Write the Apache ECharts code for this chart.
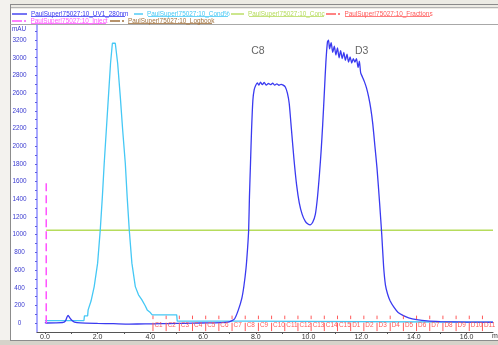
<!DOCTYPE html>
<html>
<head>
<meta charset="utf-8">
<script src="https://cdn.jsdelivr.net/npm/echarts@6/dist/echarts.min.js"></script>
<style>
  html, body { margin: 0; padding: 0; background: #fff; }
  #chart { width: 498px; height: 345px; }
</style>
</head>
<body>
<div id="chart"></div>
<script>
// curve names as shown in the legend
const curveNames = [
  'PaulSuper!75027:10_UV1_280nm',
  'PaulSuper!75027:10_Cond%',
  'PaulSuper!75027:10_Conc',
  'PaulSuper!75027:10_Fractions',
  'PaulSuper!75027:10_Inject',
  'PaulSuper!75027:10_Logbook'
];

// UV 280 nm trace [min, mAU]
const uvCurve = [
  [0.0, 8], [0.05, 2], [0.4, 3], [0.7, 8], [0.78, 25], [0.84, 70], [0.88, 88], [0.94, 62],
  [1.02, 32], [1.12, 12], [1.35, 2], [2.0, -3], [2.6, -6], [3.2, -10], [3.8, -9], [4.4, -6],
  [5.0, -3], [5.6, 0], [6.2, 3], [6.7, 6], [6.95, 12], [7.08, 25], [7.2, 50], [7.34, 150],
  [7.47, 280], [7.55, 420], [7.63, 620], [7.69, 850], [7.73, 1054], [7.76, 1430], [7.8, 1808],
  [7.84, 2184], [7.89, 2520], [7.94, 2640], [8.0, 2690], [8.06, 2715], [8.12, 2690], [8.18, 2725],
  [8.25, 2695], [8.32, 2720], [8.4, 2690], [8.48, 2710], [8.56, 2695], [8.64, 2712], [8.72, 2690],
  [8.8, 2705], [8.88, 2688], [8.96, 2700], [9.04, 2690], [9.12, 2670], [9.2, 2600], [9.27, 2480],
  [9.35, 2200], [9.45, 1850], [9.55, 1560], [9.65, 1360], [9.76, 1230], [9.88, 1150], [9.98, 1120],
  [10.06, 1110], [10.16, 1140], [10.26, 1230], [10.34, 1420], [10.42, 1700], [10.48, 1950],
  [10.54, 2250], [10.6, 2600], [10.66, 2950], [10.72, 3180], [10.76, 3200], [10.8, 3100],
  [10.86, 3170], [10.92, 3060], [10.98, 3130], [11.04, 3030], [11.1, 3110], [11.16, 3000],
  [11.22, 3080], [11.28, 2990], [11.34, 3060], [11.4, 2970], [11.46, 3040], [11.52, 2950],
  [11.58, 3010], [11.64, 2940], [11.7, 2990], [11.76, 2950], [11.82, 2990], [11.88, 2890],
  [11.93, 2960], [11.98, 2830], [12.05, 2780], [12.12, 2730], [12.2, 2660], [12.28, 2560],
  [12.36, 2430], [12.44, 2250], [12.52, 2000], [12.6, 1750], [12.7, 1350], [12.78, 1000],
  [12.85, 640], [12.92, 430], [13.0, 330], [13.1, 250], [13.24, 180], [13.4, 120], [13.6, 85],
  [13.8, 60], [14.1, 40], [14.5, 25], [15.0, 18], [16.0, 12], [17.0, 10]
];

// conductivity trace [min, value on mAU scale]
const condCurve = [
  [0.0, 28], [1.48, 28], [1.5, 82], [1.62, 82], [1.64, 150], [1.75, 250], [1.87, 413],
  [2.0, 678], [2.1, 1054], [2.18, 1430], [2.25, 1808], [2.33, 2184], [2.41, 2560], [2.49, 2938],
  [2.56, 3164], [2.62, 3185], [2.67, 3164], [2.76, 2938], [2.86, 2560], [2.95, 2184], [3.05, 1808],
  [3.12, 1430], [3.2, 1054], [3.3, 678], [3.43, 413], [3.55, 320], [3.68, 263], [3.8, 200],
  [3.88, 150], [4.0, 120], [4.07, 94], [5.0, 94], [5.02, 22], [7.6, 22], [7.62, 10], [17.0, 10]
];

// concentration and injection marks
const concCurve = [[0.05, 1050], [17.0, 1050]];
const injectMark = [[0.05, 0], [0.05, 1600]];

// fraction starts (min) and labels
const fractionStart = [4.1, 4.6, 5.1, 5.6, 6.1, 6.6, 7.1, 7.6, 8.1, 8.6, 9.1, 9.6, 10.1, 10.6,
  11.1, 11.6, 12.1, 12.6, 13.1, 13.6, 14.1, 14.6, 15.1, 15.6, 16.1, 16.6];
const fractionLabels = ['C1', 'C2', 'C3', 'C4', 'C5', 'C6', 'C7', 'C8', 'C9', 'C10', 'C11', 'C12',
  'C13', 'C14', 'C15', 'D1', 'D2', 'D3', 'D4', 'D5', 'D6', 'D7', 'D8', 'D9', 'D10', 'D11'];

// peak annotations
const peakNotes = [[8.08, 3070], [12.02, 3070]];
const peakNoteText = ['C8', 'D3'];

// axis ticks / labels
const xTickValues = [0, 1, 2, 3, 4, 5, 6, 7, 8, 9, 10, 11, 12, 13, 14, 15, 16];
const xLabelValues = [0, 2, 4, 6, 8, 10, 12, 14, 16];
const yTickValues = [0, 100, 200, 300, 400, 500, 600, 700, 800, 900, 1000, 1100, 1200, 1300,
  1400, 1500, 1600, 1700, 1800, 1900, 2000, 2100, 2200, 2300, 2400, 2500, 2600, 2700, 2800,
  2900, 3000, 3100, 3200, 3300];
const yLabelValues = [0, 200, 400, 600, 800, 1000, 1200, 1400, 1600, 1800, 2000, 2200, 2400,
  2600, 2800, 3000, 3200];

const colors = ['#3a3af0', '#45c8f5', '#b6dc5c', '#ff5a5a', '#ff55ff', '#a0703c'];
const FONT = 'Liberation Sans, Arial, sans-serif';

// legend placement: [left, top, icon width] per curve, and underline extents
const legendPos = [[12, 10.5, 15], [134, 10.5, 9], [231, 10.5, 13], [326, 10.5, 15], [12, 17.5, 15], [110, 17.5, 14]];
const underline = [[31, 125, 16.5], [148, 228, 16.5], [249, 324, 16.5], [345, 430, 16.5], [31, 106, 23.5], [128, 212, 23.5]];

const chart = echarts.init(document.getElementById('chart'));

const dashIcon = 'path://M0,0h10v1.4h-10z M12,0h2v1.4h-2z';

function legendItem(i) {
  const p = legendPos[i];
  return {
    data: [curveNames[i]],
    left: p[0], top: p[1],
    padding: 0,
    icon: (i >= 3) ? dashIcon : 'rect',
    itemWidth: p[2], itemHeight: 1.4,
    selectedMode: false,
    textStyle: { color: colors[i], fontSize: 6.4, fontFamily: FONT, lineHeight: 7, padding: [0, 0, 0, -1] }
  };
}

const frame = [
  { type: 'rect', left: 0, top: 0, z: -10, shape: { width: 498, height: 9 }, style: { fill: '#ecebe4' } },
  { type: 'line', z: -9, shape: { x1: 10, y1: 4.5, x2: 498, y2: 4.5 }, style: { stroke: '#8a8a8a', lineWidth: 1 } },
  { type: 'line', z: -9, shape: { x1: 10, y1: 7.5, x2: 498, y2: 7.5 }, style: { stroke: '#b4b4b4', lineWidth: 1 } },
  { type: 'rect', left: 0, top: 0, z: -10, shape: { width: 10, height: 345 }, style: { fill: '#f3f2ee' } },
  { type: 'line', z: -9, shape: { x1: 10.5, y1: 4, x2: 10.5, y2: 341 }, style: { stroke: '#8c8c8c', lineWidth: 1 } },
  { type: 'line', z: -9, shape: { x1: 10, y1: 24.5, x2: 498, y2: 24.5 }, style: { stroke: '#a8a8a8', lineWidth: 1 } },
  { type: 'rect', left: 0, top: 340, z: -10, shape: { width: 498, height: 5 }, style: { fill: '#d6d3ca' } },
  { type: 'line', z: -9, shape: { x1: 10, y1: 340.5, x2: 498, y2: 340.5 }, style: { stroke: '#8c8c8c', lineWidth: 1 } },
  { type: 'text', left: 12, top: 26, style: { text: 'mAU', fill: '#3a3ad0', fontSize: 6.4, fontFamily: FONT } },
  { type: 'text', left: 492, top: 333, style: { text: 'min', fill: '#333', fontSize: 7, fontFamily: FONT } }
];
underline.forEach(function (u, i) {
  frame.push({ type: 'line', shape: { x1: u[0], y1: u[2], x2: u[1], y2: u[2] },
    style: { stroke: colors[i], lineWidth: 0.8 } });
});

chart.setOption({
  animation: false,
  backgroundColor: '#ffffff',
  textStyle: { fontFamily: FONT },
  legend: [0, 1, 2, 3, 4, 5].map(legendItem),
  graphic: frame,
  grid: { left: 37, right: 5, top: 25, bottom: 13, containLabel: false, outerBoundsMode: 'none' },
  xAxis: {
    type: 'value',
    min: -0.3, max: 17.0,
    axisLine: { onZero: false, lineStyle: { color: '#555', width: 1 } },
    axisTick: { show: true, customValues: xTickValues, length: 2, lineStyle: { color: '#555' } },
    axisLabel: { customValues: xLabelValues, color: '#333', fontSize: 7, margin: 2,
      formatter: function (v) { return v.toFixed(1); } },
    splitLine: { show: false }
  },
  yAxis: {
    type: 'value',
    min: -100, max: 3370,
    axisLine: { show: true, onZero: false, lineStyle: { color: '#8c8cff', width: 1.5 } },
    axisTick: { show: true, customValues: yTickValues, length: 2, lineStyle: { color: '#6060e0' } },
    axisLabel: { customValues: yLabelValues, color: '#3a3ad0', fontSize: 6.4, margin: 17.5, align: 'center',
      formatter: function (v) { return String(v); } },
    splitLine: { show: false }
  },
  series: [
    {
      name: curveNames[2], type: 'line', data: concCurve, color: colors[2],
      showSymbol: false, lineStyle: { width: 1.4, color: colors[2] }, z: 2
    },
    {
      name: curveNames[1], type: 'line', data: condCurve, color: colors[1],
      showSymbol: false, lineStyle: { width: 1.3, color: colors[1] }, z: 3
    },
    {
      name: curveNames[0], type: 'line', data: uvCurve, color: colors[0], smooth: 0.2,
      showSymbol: false, lineStyle: { width: 1.3, color: colors[0] }, z: 4
    },
    {
      name: curveNames[4], type: 'line', data: injectMark, color: colors[4],
      showSymbol: false, lineStyle: { width: 1.5, color: colors[4], type: [8, 4] }, z: 5
    },
    {
      name: curveNames[5], type: 'line', data: [], color: colors[5], showSymbol: false
    },
    {
      name: curveNames[3], type: 'custom', color: colors[3], z: 6,
      data: fractionStart.map(function (t) { return [t, 0]; }),
      encode: { x: 0, y: 1 },
      renderItem: function (params, api) {
        const t = api.value(0);
        const a = api.coord([t, -90]), b = api.coord([t, 5]);
        const c = api.coord([t, 45]), d = api.coord([t, 85]);
        const m = api.coord([t, -22]);
        return {
          type: 'group',
          children: [
            { type: 'line', shape: { x1: a[0], y1: a[1], x2: b[0], y2: b[1] }, style: { stroke: colors[3], lineWidth: 1 } },
            { type: 'line', shape: { x1: c[0], y1: c[1], x2: d[0], y2: d[1] }, style: { stroke: colors[3], lineWidth: 1 } },
            { type: 'text', x: m[0] + 1.5, y: m[1],
              style: { text: fractionLabels[params.dataIndex], fill: colors[3], fontSize: 6.4,
                fontFamily: FONT, verticalAlign: 'middle', align: 'left' } }
          ]
        };
      }
    },
    {
      type: 'scatter', data: peakNotes, symbolSize: 0, z: 7, silent: true,
      label: {
        show: true, position: 'inside', color: '#3c3c3c', fontSize: 10.5, fontFamily: FONT,
        formatter: function (p) { return peakNoteText[p.dataIndex]; }
      }
    }
  ]
});
</script>
</body>
</html>
